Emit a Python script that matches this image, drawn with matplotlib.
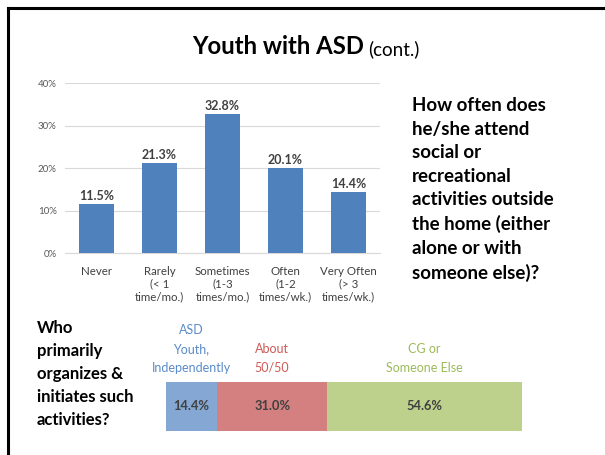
import matplotlib
matplotlib.use("Agg")
import matplotlib.pyplot as plt
from matplotlib.lines import Line2D

plt.rcParams['font.family'] = ['Lato', 'DejaVu Sans']

# frequency question
categories = ['Never', 'Rarely\n(< 1\ntime/mo.)', 'Sometimes\n(1-3\ntimes/mo.)',
              'Often\n(1-2\ntimes/wk.)', 'Very Often\n(> 3\ntimes/wk.)']
freq_pct = [11.5, 21.3, 32.8, 20.1, 14.4]
yticks = [0, 10, 20, 30, 40]

# who organizes
org_labels = ['ASD\nYouth,\nIndependently', 'About\n50/50', 'CG or\nSomeone Else']
org_pct = [14.4, 31.0, 54.6]
org_colors = ['#84A7D3', '#D48080', '#BDD18C']
org_text_colors = ['#5B8BC8', '#CC5A57', '#9BBB59']

W, H = 605, 455
fig = plt.figure(figsize=(W / 100, H / 100), dpi=100)

# slide border (top and left only visible)
fig.add_artist(Line2D([7.5 / W, 7.5 / W], [0, 1 - 7.5 / H], transform=fig.transFigure,
                      color='black', lw=2.2))
fig.add_artist(Line2D([7.5 / W, 1], [1 - 7.5 / H, 1 - 7.5 / H], transform=fig.transFigure,
                      color='black', lw=2.2))

# title
t1 = fig.text(192 / W, 1 - 54 / H, 'Youth with ASD', fontsize=17.2, fontweight='bold',
              ha='left', va='baseline')
fig.add_artist(matplotlib.text.Annotation('(cont.)', xy=(1, 0), xycoords=t1,
                                          xytext=(3, 0), textcoords='offset points',
                                          fontsize=13.5, va='bottom', ha='left'))

# bar chart
ax = fig.add_axes([65 / W, 1 - 253.3 / H, 315 / W, 170 / H])
x = range(len(categories))
bars = ax.bar(x, freq_pct, width=0.56, color='#4F81BD', zorder=3)
ax.set_ylim(0, 40)
ax.set_xlim(-0.5, len(categories) - 0.5)
ax.set_yticks(yticks)
ax.set_yticklabels(['%d%%' % v for v in yticks], fontsize=7, color='#595959')
ax.set_xticks(list(x))
ax.set_xticklabels(categories, fontsize=8.3, color='#404040', linespacing=1.2)
ax.tick_params(length=0, pad=9)
ax.tick_params(axis='y', pad=6)
ax.grid(axis='y', color='#D9D9D9', lw=0.8, zorder=0)
for s in ['top', 'right', 'left']:
    ax.spines[s].set_visible(False)
ax.spines['bottom'].set_color('#D9D9D9')
for b, v in zip(bars, freq_pct):
    ax.annotate('%.1f%%' % v, (b.get_x() + b.get_width() / 2, v), xytext=(0, 1.5),
                textcoords='offset points', ha='center', va='bottom',
                fontsize=9, fontweight='bold', color='#404040')

# question texts
fig.text(412 / W, 1 - 97 / H,
         'How often does\nhe/she attend\nsocial or\nrecreational\nactivities outside\n'
         'the home (either\nalone or with\nsomeone else)?',
         fontsize=13.5, fontweight='bold', ha='left', va='top', linespacing=1.47)
fig.text(37 / W, 1 - 320 / H,
         'Who\nprimarily\norganizes &\ninitiates such\nactivities?',
         fontsize=12, fontweight='bold', ha='left', va='top', linespacing=1.53)

# stacked bar
ax2 = fig.add_axes([165.7 / W, 1 - 430.7 / H, 356 / W, 49 / H])
left = 0
for lab, v, c, tc in zip(org_labels, org_pct, org_colors, org_text_colors):
    ax2.barh(0, v, left=left, height=1, color=c)
    ax2.text(left + v / 2, 0, '%.1f%%' % v, ha='center', va='center',
             fontsize=9.3, fontweight='bold', color='#404040')
    ax2.text(left + v / 2, 0.66, lab, ha='center', va='bottom', fontsize=9,
             color=tc, linespacing=1.68, clip_on=False)
    left += v
ax2.set_xlim(0, 100)
ax2.set_ylim(-0.5, 0.5)
ax2.axis('off')

fig.savefig('out.png', dpi=100)
